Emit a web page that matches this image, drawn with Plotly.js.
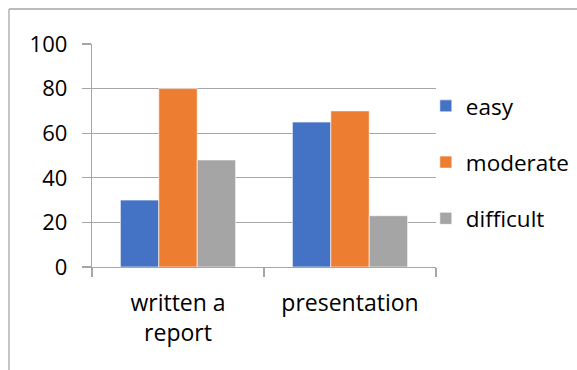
<!DOCTYPE html>
<html><head><meta charset="utf-8">
<script src="https://cdn.plot.ly/plotly-3.0.1.min.js"></script>
<style>html,body{margin:0;padding:0;background:#fff}#c{width:577px;height:370px}</style>
</head><body><div id="c"></div>
<script>
const categories = ["written a<br>report", "presentation"];
const seriesNames = ["easy", "moderate", "difficult"];
const easy = [30, 65];
const moderate = [80, 70];
const difficult = [48, 23];
const yTicks = [0, 20, 40, 60, 80, 100];

const colors = ["#4472C4", "#ED7D31", "#A5A5A5"];
const values = [easy, moderate, difficult];
const font = "Open Sans, Liberation Sans, sans-serif";

const traces = seriesNames.map((n, i) => ({
  type: "bar", name: n, x: categories, y: values[i],
  marker: {color: colors[i], line: {color: "rgba(255,255,255,0.6)", width: 1}},
  legendgroup: n, hoverinfo: "none"
}));

const layout = {
  width: 577, height: 370,
  margin: {l: 92, r: 141, t: 44, b: 103, autoexpand: false},
  paper_bgcolor: "#fff", plot_bgcolor: "#fff",
  font: {family: font, size: 22, color: "#000"},
  barmode: "group", bargap: 0.33, bargroupgap: 0,
  xaxis: {
    showline: true, linecolor: "#a6a6a6", linewidth: 1.3,
    ticks: "outside", tickson: "boundaries", ticklen: 9, tickcolor: "#a6a6a6", tickwidth: 1.3,
    tickfont: {size: 23, family: font}, showgrid: false, ticklabelstandoff: 15
  },
  yaxis: {
    range: [0, 100], tickvals: yTicks, ticktext: yTicks.map(String),
    showline: true, linecolor: "#a6a6a6", linewidth: 1.3,
    showgrid: true, gridcolor: "#a6a6a6", gridwidth: 1.3,
    ticks: "outside", ticklen: 9, tickcolor: "#a6a6a6", tickwidth: 1.3,
    tickfont: {size: 22, family: font}, zeroline: false, ticklabelstandoff: 10
  },
  showlegend: true,
  legend: {
    xref: "container", yref: "container",
    x: 0.738, xanchor: "left", y: 0.771, yanchor: "top",
    font: {size: 22.5, family: font}, tracegroupgap: 24,
    bgcolor: "rgba(0,0,0,0)"
  },
  shapes: [{
    type: "line", xref: "paper", yref: "paper",
    x0: -83/344, x1: 490/344, y0: 258/223, y1: 258/223,
    line: {color: "#a6a6a6", width: 1.3}
  }, {
    type: "line", xref: "paper", yref: "paper",
    x0: -83/344, x1: -83/344, y0: 258/223, y1: -110/223,
    line: {color: "#a6a6a6", width: 1.3}
  }]
};
Plotly.newPlot("c", traces, layout, {staticPlot: true});
</script></body></html>
